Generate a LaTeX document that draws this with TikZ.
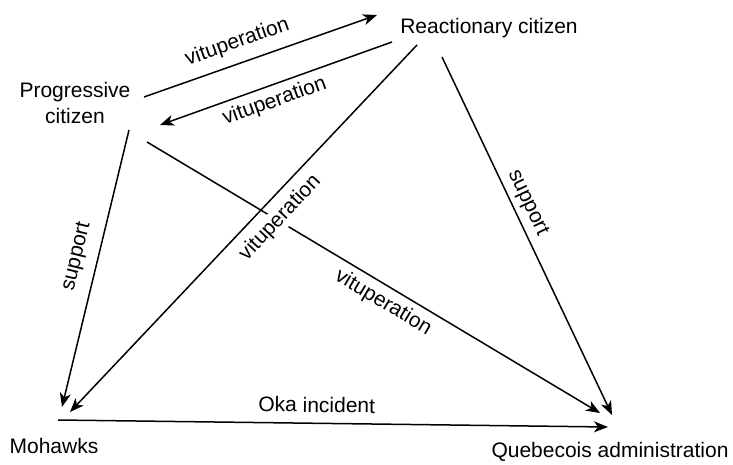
\documentclass[tikz,border=0pt]{standalone}
\usepackage{fontspec}
\setmainfont{Liberation Sans}
\usetikzlibrary{arrows.meta}

\begin{document}
\begin{tikzpicture}[x=1pt,y=-1pt,
  actor/.style={inner sep=0pt,align=center,font=\fontsize{21}{26.5}\selectfont},
  rel/.style={line width=1.5pt,-{Stealth[length=14pt,width=11pt,inset=4pt]}},
  lbl/.style={sloped,inner sep=2pt,font=\fontsize{21}{26.5}\selectfont}]
\useasboundingbox (0,0) rectangle (733,464);
\node[actor] (prog) at (75,103) {Progressive\\citizen};
\node[actor] (react) at (489,28) {Reactionary citizen};
\node[actor] (moh) at (54,446) {Mohawks};
\node[actor] (queb) at (610,452) {Quebecois administration};
% between the citizens
\draw[rel] ([shift={(69,-6)}]prog.center) -- node[lbl,above=8pt,pos=0.43] (v1) {vituperation} ([shift={(-112,-13)}]react.center);
\draw[rel] ([shift={(-97,14)}]react.center) -- node[lbl,below=4pt,pos=0.53] (v2) {vituperation} ([shift={(85,22)}]prog.center);
% towards the two sides
\draw[rel] ([shift={(72,39)}]prog.center) -- node[lbl,below=4pt,pos=0.54] (v3) {vituperation} ([shift={(-10,-39)}]queb.center);
\draw[rel] ([shift={(-72,17)}]react.center) -- node[lbl,below=7pt,pos=0.435,fill=white] (v4) {vituperation} ([shift={(16,-34)}]moh.center);
\draw[rel] ([shift={(54,27)}]prog.center) -- node[lbl,above=9pt,pos=0.475] (s1) {support} ([shift={(8,-39)}]moh.center);
\draw[rel] ([shift={(-47,29)}]react.center) -- node[lbl,above=3pt,pos=0.425] (s2) {support} ([shift={(2,-37)}]queb.center);
\draw[rel] ([shift={(4,-26)}]moh.center) -- node[lbl,above=8pt,pos=0.47] (oka) {Oka incident} ([shift={(-2,-25)}]queb.center);
\end{tikzpicture}
\end{document}
